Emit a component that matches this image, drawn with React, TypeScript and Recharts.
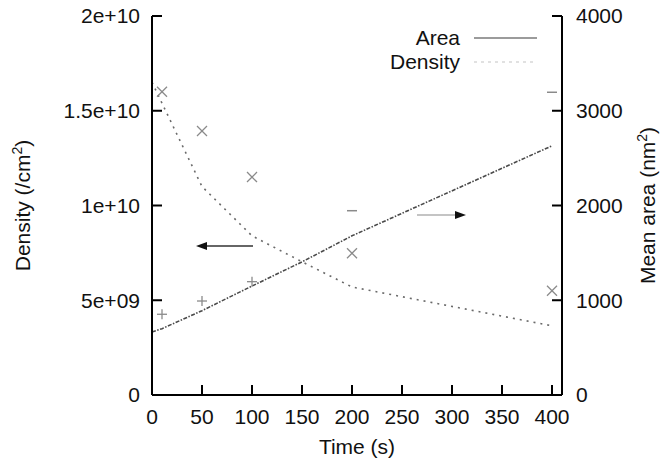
import { ComposedChart, Line, Scatter, XAxis, YAxis, ReferenceLine } from 'recharts';

// fitted curves (time in s)
const TIME = [0, 10, 50, 100, 150, 200, 400];
const DENSITY_FIT = [1.65e10, 1.54e10, 1.1e10, 8.4e9, 7.03e9, 5.7e9, 3.65e9];
const AREA_FIT = [665, 700, 890, 1150, 1405, 1680, 2630];

// measured points
const DENSITY_TIME = [10, 50, 100, 200, 400];
const DENSITY_MEAS = [1.6e10, 1.393e10, 1.15e10, 7.48e9, 5.5e9];
const AREA_TIME = [10, 50, 100];
const AREA_MEAS = [852, 992, 1196];
const AREA_DASH_TIME = [200, 400];
const AREA_DASH_MEAS = [1945, 3195];

const X_TICKS = [0, 50, 100, 150, 200, 250, 300, 350, 400];
const LEFT_TICKS = [0, 5e9, 1e10, 1.5e10, 2e10];
const LEFT_TICK_LABELS = ['0', '5e+09', '1e+10', '1.5e+10', '2e+10'];
const RIGHT_TICKS = [0, 1000, 2000, 3000, 4000];

const fitData = TIME.map((t, i) => ({ t, density: DENSITY_FIT[i], area: AREA_FIT[i] }));
const densityPts = DENSITY_TIME.map((t, i) => ({ t, v: DENSITY_MEAS[i] }));
const areaPts = AREA_TIME.map((t, i) => ({ t, v: AREA_MEAS[i] }));
const areaDashPts = AREA_DASH_TIME.map((t, i) => ({ t, v: AREA_DASH_MEAS[i] }));

const FONT = '"Liberation Sans", Arial, Helvetica, sans-serif';
const FS = 21;
const AX = { stroke: '#000', strokeWidth: 2 };
const TL = { stroke: '#000', strokeWidth: 2 };
const MARK = '#8a8a8a';

const cross = (p: any) => (
  <g stroke={MARK} strokeWidth={1.3}>
    <line x1={p.cx - 5} y1={p.cy - 5} x2={p.cx + 5} y2={p.cy + 5} />
    <line x1={p.cx - 5} y1={p.cy + 5} x2={p.cx + 5} y2={p.cy - 5} />
  </g>
);
const plus = (p: any) => (
  <g stroke={MARK} strokeWidth={1.3}>
    <line x1={p.cx - 5} y1={p.cy} x2={p.cx + 5} y2={p.cy} />
    <line x1={p.cx} y1={p.cy - 5} x2={p.cx} y2={p.cy + 5} />
  </g>
);
const dash = (p: any) => (
  <line x1={p.cx - 5} y1={p.cy} x2={p.cx + 5} y2={p.cy} stroke={MARK} strokeWidth={1.5} />
);

const arrow = (color: string) => (p: any) => {
  const { x1, y1, x2, y2 } = p;
  const dir = Math.sign(x2 - x1);
  const h = 11;
  return (
    <g>
      <line x1={x1} y1={y1} x2={x2 - dir * h} y2={y2} stroke={color} strokeWidth={1.6} />
      <polygon points={`${x2},${y2} ${x2 - dir * h},${y2 - 4} ${x2 - dir * h},${y2 + 4}`} fill="#111" />
    </g>
  );
};

export default function App() {
  return (
    <div style={{ position: 'absolute', left: 0, top: 0, width: 665, height: 464, background: '#fff', fontFamily: FONT }}>
      <ComposedChart width={665} height={464} margin={{ top: 16, right: 0, bottom: 0, left: 0 }}>
        <XAxis
          xAxisId="bottom" dataKey="t" type="number" domain={[0, 410]} ticks={X_TICKS}
          height={69} axisLine={AX} tickLine={TL} tickSize={-10} tickMargin={24}
          tick={{ fill: '#111', fontSize: FS, fontFamily: FONT }}
          label={{
            content: ({ viewBox }: any) => (
              <text x={viewBox.x + viewBox.width / 2} y={viewBox.y + 59} textAnchor="middle"
                fontSize={FS} fontFamily={FONT} fill="#111">Time (s)</text>
            ),
          }}
        />
        <XAxis
          xAxisId="top" orientation="top" dataKey="t" type="number" domain={[0, 410]} ticks={X_TICKS}
          height={0} axisLine={AX} tickLine={TL} tickSize={-10} tick={false}
        />
        <YAxis
          yAxisId="left" type="number" domain={[0, 2e10]} ticks={LEFT_TICKS} width={152}
          axisLine={AX} tickLine={TL} tickSize={-10} tickMargin={22}
          tickFormatter={(v: number) => LEFT_TICK_LABELS[LEFT_TICKS.indexOf(v)]}
          tick={{ fill: '#111', fontSize: FS, fontFamily: FONT }}
          label={{
            content: ({ viewBox }: any) => {
              const cx = 30, cy = viewBox.y + viewBox.height / 2;
              return (
                <text transform={`translate(${cx},${cy}) rotate(-90)`} textAnchor="middle"
                  fontSize={FS} fontFamily={FONT} fill="#111">
                  Density (/cm<tspan dy={-8} fontSize={14}>2</tspan><tspan dy={8}>)</tspan>
                </text>
              );
            },
          }}
        />
        <YAxis
          yAxisId="right" orientation="right" type="number" domain={[0, 4000]} ticks={RIGHT_TICKS} width={103}
          axisLine={AX} tickLine={TL} tickSize={-10} tickMargin={24}
          tick={{ fill: '#111', fontSize: FS, fontFamily: FONT }}
          label={{
            content: ({ viewBox }: any) => {
              const cx = 655, cy = viewBox.y + viewBox.height / 2;
              return (
                <text transform={`translate(${cx},${cy}) rotate(-90)`} textAnchor="middle"
                  fontSize={FS} fontFamily={FONT} fill="#111">
                  Mean area (nm<tspan dy={-8} fontSize={14}>2</tspan><tspan dy={8}>)</tspan>
                </text>
              );
            },
          }}
        />

        <Line
          data={fitData} xAxisId="bottom" yAxisId="right" dataKey="area" type="linear"
          stroke="#4a4a4a" strokeWidth={1.6} strokeDasharray="4 1.5 1.5 1.5" dot={false}
          isAnimationActive={false}
        />
        <Line
          data={fitData} xAxisId="bottom" yAxisId="left" dataKey="density" type="linear"
          stroke="#6a6a6a" strokeWidth={1.6} strokeDasharray="2 5" dot={false}
          isAnimationActive={false}
        />
        <Scatter data={densityPts} xAxisId="bottom" yAxisId="left" dataKey="v" shape={cross} isAnimationActive={false} />
        <Scatter data={areaPts} xAxisId="bottom" yAxisId="right" dataKey="v" shape={plus} isAnimationActive={false} />
        <Scatter data={areaDashPts} xAxisId="bottom" yAxisId="right" dataKey="v" shape={dash} isAnimationActive={false} />

        <ReferenceLine
          xAxisId="bottom" yAxisId="left"
          segment={[{ x: 101, y: 7.86e9 }, { x: 44, y: 7.86e9 }]}
          shape={arrow('#333')}
        />
        <ReferenceLine
          xAxisId="bottom" yAxisId="right"
          segment={[{ x: 265, y: 1900 }, { x: 314, y: 1900 }]}
          shape={arrow('#b0b0b0')}
        />
      </ComposedChart>

      {/* key, top right inside the frame */}
      <svg width={200} height={80} style={{ position: 'absolute', left: 380, top: 16 }}>
        <text x={80} y={29} textAnchor="end" fontSize={FS} fontFamily={FONT} fill="#111">Area</text>
        <line x1={94} y1={22} x2={157} y2={22} stroke="#7a7a7a" strokeWidth={1.5} />
        <text x={80} y={53} textAnchor="end" fontSize={FS} fontFamily={FONT} fill="#111">Density</text>
        <line x1={94} y1={46} x2={157} y2={46} stroke="#d8d8d8" strokeWidth={1.5} strokeDasharray="3 4" />
      </svg>
    </div>
  );
}
